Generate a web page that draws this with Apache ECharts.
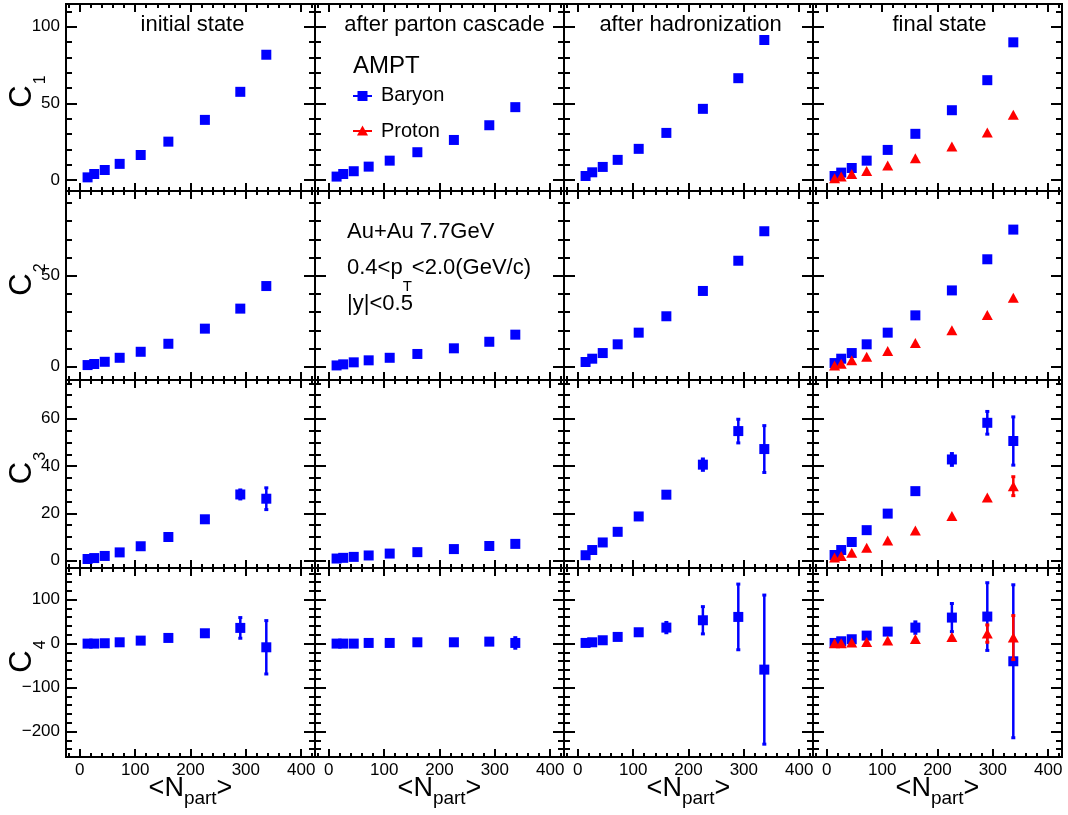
<!DOCTYPE html>
<html><head><meta charset="utf-8">
<script src="https://cdn.jsdelivr.net/npm/echarts@6/dist/echarts.min.js"></script>
<style>html,body{margin:0;padding:0;background:#fff}#c{width:1068px;height:815px}</style>
</head><body><div id="c"></div>
<script>
// ---------------- DATA ----------------
const stageTitles = ['initial state', 'after parton cascade', 'after hadronization', 'final state'];
const npart = [14, 26, 45, 72, 110, 160, 226, 290, 337];

// C1
const c1Initial   = [1.7, 3.9, 6.5, 10.5, 16.3, 25.0, 39.2, 57.5, 81.7];
const c1Parton    = [2.2, 3.9, 5.7, 8.7, 12.6, 18.1, 26.1, 35.7, 47.5];
const c1Hadron    = [2.6, 5.0, 8.5, 13.1, 20.3, 30.7, 46.4, 66.4, 91.3];
const c1FinalB    = [2.6, 4.8, 7.8, 12.6, 19.6, 30.1, 45.5, 65.1, 89.8];
const c1FinalP    = [1.1, 2.2, 3.9, 5.9, 9.4, 14.2, 21.8, 30.9, 42.5];
// C2
const c2Initial   = [0.9, 1.5, 2.7, 4.9, 8.2, 12.6, 20.9, 31.9, 44.3];
const c2Parton    = [0.7, 1.3, 2.4, 3.5, 4.9, 7.0, 10.1, 13.7, 17.6];
const c2Hadron    = [2.6, 4.4, 7.5, 12.3, 18.7, 27.7, 41.6, 58.2, 74.4];
const c2FinalB    = [2.0, 4.4, 7.5, 12.3, 18.7, 28.2, 41.9, 59.0, 75.3];
const c2FinalP    = [0.7, 1.6, 3.5, 5.5, 8.6, 13.0, 20.0, 28.4, 37.9];
// C3
const c3Initial   = [0.7, 1.1, 2.0, 3.5, 6.1, 10.0, 17.5, 28.0, 26.2];
const c3InitialE  = [0, 0, 0, 0, 0, 0, 0, 1.9, 4.6];
const c3Parton    = [0.9, 1.2, 1.6, 2.2, 3.0, 3.6, 4.9, 6.2, 7.1];
const c3PartonE   = [0, 0, 0, 0, 0, 0, 0, 0, 0];
const c3Hadron    = [2.3, 4.5, 7.7, 12.2, 18.7, 27.9, 40.6, 54.8, 47.2];
const c3HadronE   = [0, 0, 0, 0, 0, 0, 2.4, 5.0, 9.9];
const c3FinalB    = [2.4, 4.5, 7.9, 12.9, 19.9, 29.4, 42.8, 58.3, 50.6];
const c3FinalBE   = [0, 0, 0, 0, 0, 0, 2.5, 4.8, 10.2];
const c3FinalP    = [1.3, 2.0, 3.3, 5.5, 8.5, 12.8, 18.9, 26.7, 31.5];
const c3FinalPE   = [0, 0, 0, 0, 0, 0, 0, 0, 4.0];
// C4
const c4Initial   = [0, 0, 0.8, 3.0, 6.8, 12.9, 23.5, 35.7, -8.4];
const c4InitialE  = [0, 0, 0, 0, 0, 0, 0, 23.5, 60.7];
const c4Parton    = [0, 0, 0, 1.5, 1.5, 3.0, 3.0, 4.5, 1.5];
const c4PartonE   = [0, 0, 0, 0, 0, 0, 0, 0, 12];
const c4Hadron    = [1.5, 3.0, 7.6, 15.2, 25.8, 36.4, 53.1, 60.7, -59.2];
const c4HadronE   = [0, 0, 0, 0, 0, 11.7, 31, 74.7, 169.6];
const c4FinalB    = [1.5, 5.3, 9.9, 18.2, 27.3, 36.4, 59.2, 61.5, -40.2];
const c4FinalBE   = [0, 0, 0, 0, 0, 13, 32, 77, 174];
const c4FinalP    = [0.8, 0.8, 2.3, 3.8, 6.8, 10.6, 15.2, 22.8, 13.7];
const c4FinalPE   = [0, 0, 0, 0, 0, 0, 0, 19.7, 50];

// Tick labels
const xTicks = [0, 100, 200, 300, 400];
const xMinor = [-20, 20, 40, 60, 80, 120, 140, 160, 180, 220, 240, 260, 280, 320, 340, 360, 380, 420];
const yTicksRows = [[0, 50, 100], [0, 50], [0, 20, 40, 60], [-200, -100, 0, 100]];
const yMinorRows = [
  [10, 20, 30, 40, 60, 70, 80, 90, 110],
  [10, 20, 30, 40, 60, 70, 80, 90],
  [5, 10, 15, 25, 30, 35, 45, 50, 55, 65, 70, 75],
  [-240, -220, -180, -160, -140, -120, -80, -60, -40, -20, 20, 40, 60, 80, 120, 140, 160]
];
const rowNames = ['1', '2', '3', '4'];

// ---------------- LAYOUT ----------------
const FONT = '"Liberation Sans", Arial, Helvetica, sans-serif';
const colLeft = [66, 315, 564, 813], colW = 249;
const rowTop = [4, 191, 380, 568], rowH = [187, 189, 188, 189];
const xRange = [-25, 425];
const yRange = [[-7.2, 114.8], [-7.3, 96.5], [-3.1, 76.4], [-258, 172]];
const BLUE = '#0000ff', RED = '#ff0000';

const panels = [
  [
    {b: c1Initial}, {b: c1Parton}, {b: c1Hadron}, {b: c1FinalB, p: c1FinalP}
  ],
  [
    {b: c2Initial}, {b: c2Parton}, {b: c2Hadron}, {b: c2FinalB, p: c2FinalP}
  ],
  [
    {b: c3Initial, be: c3InitialE}, {b: c3Parton, be: c3PartonE}, {b: c3Hadron, be: c3HadronE},
    {b: c3FinalB, be: c3FinalBE, p: c3FinalP, pe: c3FinalPE}
  ],
  [
    {b: c4Initial, be: c4InitialE}, {b: c4Parton, be: c4PartonE}, {b: c4Hadron, be: c4HadronE},
    {b: c4FinalB, be: c4FinalBE, p: c4FinalP, pe: c4FinalPE}
  ]
];

const fmt = v => (v < 0 ? '\u2212' + Math.abs(v) : String(v));

const grids = [], xAxes = [], yAxes = [], series = [];
for (let r = 0; r < 4; r++) {
  for (let c = 0; c < 4; c++) {
    const gi = r * 4 + c;
    grids.push({left: colLeft[c], top: rowTop[r], width: colW, height: rowH[r], show: true,
      borderColor: '#000', borderWidth: 2, backgroundColor: 'transparent', outerBoundsMode: 'none'});
    const xBase = {gridIndex: gi, type: 'value', min: xRange[0], max: xRange[1],
      axisLine: {show: false, onZero: false}, splitLine: {show: false}};
    const mkX = (pos, vals, len, lab) => Object.assign({}, xBase, {
      position: pos,
      axisTick: {show: true, inside: true, length: len, customValues: vals, lineStyle: {color: '#000', width: 2}},
      axisLabel: lab ? {show: true, customValues: xTicks, margin: 5, fontSize: 17, color: '#000', fontFamily: FONT, formatter: fmt}
                     : {show: false}
    });
    xAxes.push(mkX('bottom', xTicks, 8, r === 3), mkX('bottom', xMinor, 4, false),
               mkX('top', xTicks, 8, false), mkX('top', xMinor, 4, false));
    const yBase = {gridIndex: gi, type: 'value', min: yRange[r][0], max: yRange[r][1],
      axisLine: {show: false, onZero: false}, splitLine: {show: false}};
    const mkY = (pos, vals, len, lab) => Object.assign({}, yBase, {
      position: pos,
      axisTick: {show: true, inside: true, length: len, customValues: vals, lineStyle: {color: '#000', width: 2}},
      axisLabel: lab ? {show: true, customValues: yTicksRows[r], margin: 6, fontSize: 17, color: '#000', fontFamily: FONT, formatter: fmt}
                     : {show: false}
    });
    yAxes.push(mkY('left', yTicksRows[r], 11, c === 0), mkY('left', yMinorRows[r], 6, false),
               mkY('right', yTicksRows[r], 11, false), mkY('right', yMinorRows[r], 6, false));

    const pn = panels[r][c];
    const addSet = (vals, errs, color, symbol, size, z) => {
      if (errs) {
        series.push({
          type: 'custom', xAxisIndex: gi * 4, yAxisIndex: gi * 4, z: z, clip: true,
          data: npart.map((x, i) => [x, vals[i], errs[i]]).filter(d => d[2] > 0),
          renderItem: (params, api) => {
            const x = api.value(0), y = api.value(1), e = api.value(2);
            const t = api.coord([x, y + e]), b = api.coord([x, y - e]);
            const st = {stroke: color, lineWidth: 2.5};
            const cap = {stroke: color, lineWidth: 3};
            return {type: 'group', children: [
              {type: 'line', shape: {x1: t[0], y1: t[1], x2: b[0], y2: b[1]}, style: st},
              {type: 'line', shape: {x1: t[0] - 2, y1: t[1], x2: t[0] + 2, y2: t[1]}, style: cap},
              {type: 'line', shape: {x1: b[0] - 2, y1: b[1], x2: b[0] + 2, y2: b[1]}, style: cap}
            ]};
          }
        });
      }
      series.push({
        type: 'scatter', xAxisIndex: gi * 4, yAxisIndex: gi * 4, z: z + 1,
        symbol: symbol, symbolSize: size, itemStyle: {color: color, opacity: 1},
        data: npart.map((x, i) => [x, vals[i]])
      });
    };
    addSet(pn.b, pn.be, BLUE, 'rect', 10, 2);
    if (pn.p) addSet(pn.p, pn.pe, RED, 'triangle', [11, 10], 4);
  }
}

// ---------------- TEXT ----------------
const mctx = document.createElement('canvas').getContext('2d');
const tw = (t, s) => { mctx.font = s + 'px ' + FONT; return mctx.measureText(t).width; };
const txt = (t, s, x, y, align) => ({type: 'text', x: x, y: y,
  style: {text: t, fontSize: s, fontFamily: FONT, fill: '#000', textAlign: align || 'left',
          textVerticalAlign: 'middle', verticalAlign: 'middle'}});
// place a run of text pieces (with sub-scripts) at absolute coordinates
function runText(parts, x0, y0) {
  let x = x0; const out = [];
  parts.forEach(p => { out.push(txt(p.t, p.s, x, y0 + (p.dy || 0))); x += tw(p.t, p.s); });
  return out;
}
const runWidth = parts => parts.reduce((a, p) => a + tw(p.t, p.s), 0);

const graphics = [];
// titles
stageTitles.forEach((t, c) => graphics.push(txt(t, 22, colLeft[c] + colW / 2 + 2 + (c === 1 ? 3 : 0), 25, 'center')));
// y titles C_n (rotated)
for (let r = 0; r < 4; r++) {
  const cy = rowTop[r] + rowH[r] / 2 - 1;
  const cw = tw('C', 31);
  graphics.push({type: 'group', x: 22, y: cy, rotation: Math.PI / 2, children: [
    txt('C', 31, 0, 0, 'center'),
    txt(rowNames[r], 16, cw / 2 + 1, 19, 'left')
  ]});
}
// x titles <N_part>
const nPartParts = [{t: '<N', s: 27}, {t: 'part', s: 19, dy: 10}, {t: '>', s: 27}];
for (let c = 0; c < 4; c++) {
  const w = runWidth(nPartParts);
  runText(nPartParts, colLeft[c] + colW / 2 - w / 2, 789).forEach(e => graphics.push(e));
}
// legend in panel (1,2)
graphics.push(txt('AMPT', 24, 353, 66));
graphics.push({type: 'line', shape: {x1: 353, y1: 96, x2: 372, y2: 96}, style: {stroke: BLUE, lineWidth: 2}});
graphics.push({type: 'rect', shape: {x: 357.5, y: 91, width: 10, height: 10}, style: {fill: BLUE}});
graphics.push(txt('Baryon', 20, 381, 95));
graphics.push({type: 'line', shape: {x1: 353, y1: 131, x2: 372, y2: 131}, style: {stroke: RED, lineWidth: 2}});
graphics.push({type: 'polygon', shape: {points: [[362.5, 125.5], [368, 135.5], [357, 135.5]]}, style: {fill: RED}});
graphics.push(txt('Proton', 20, 381, 131));
// annotation in panel (2,2)
graphics.push(txt('Au+Au 7.7GeV', 22, 347, 232));
runText([{t: '0.4<p', s: 22}, {t: 'T', s: 15, dy: 19}, {t: '<2.0(GeV/c)', s: 22}], 347, 268)
  .forEach(e => graphics.push(e));
graphics.push(txt('|y|<0.5', 22, 347, 304));

const chart = echarts.init(document.getElementById('c'), null, {renderer: 'canvas'});
chart.setOption({
  animation: false,
  backgroundColor: '#fff',
  textStyle: {fontFamily: FONT},
  grid: grids, xAxis: xAxes, yAxis: yAxes, series: series,
  graphic: {elements: graphics}
});
</script></body></html>
